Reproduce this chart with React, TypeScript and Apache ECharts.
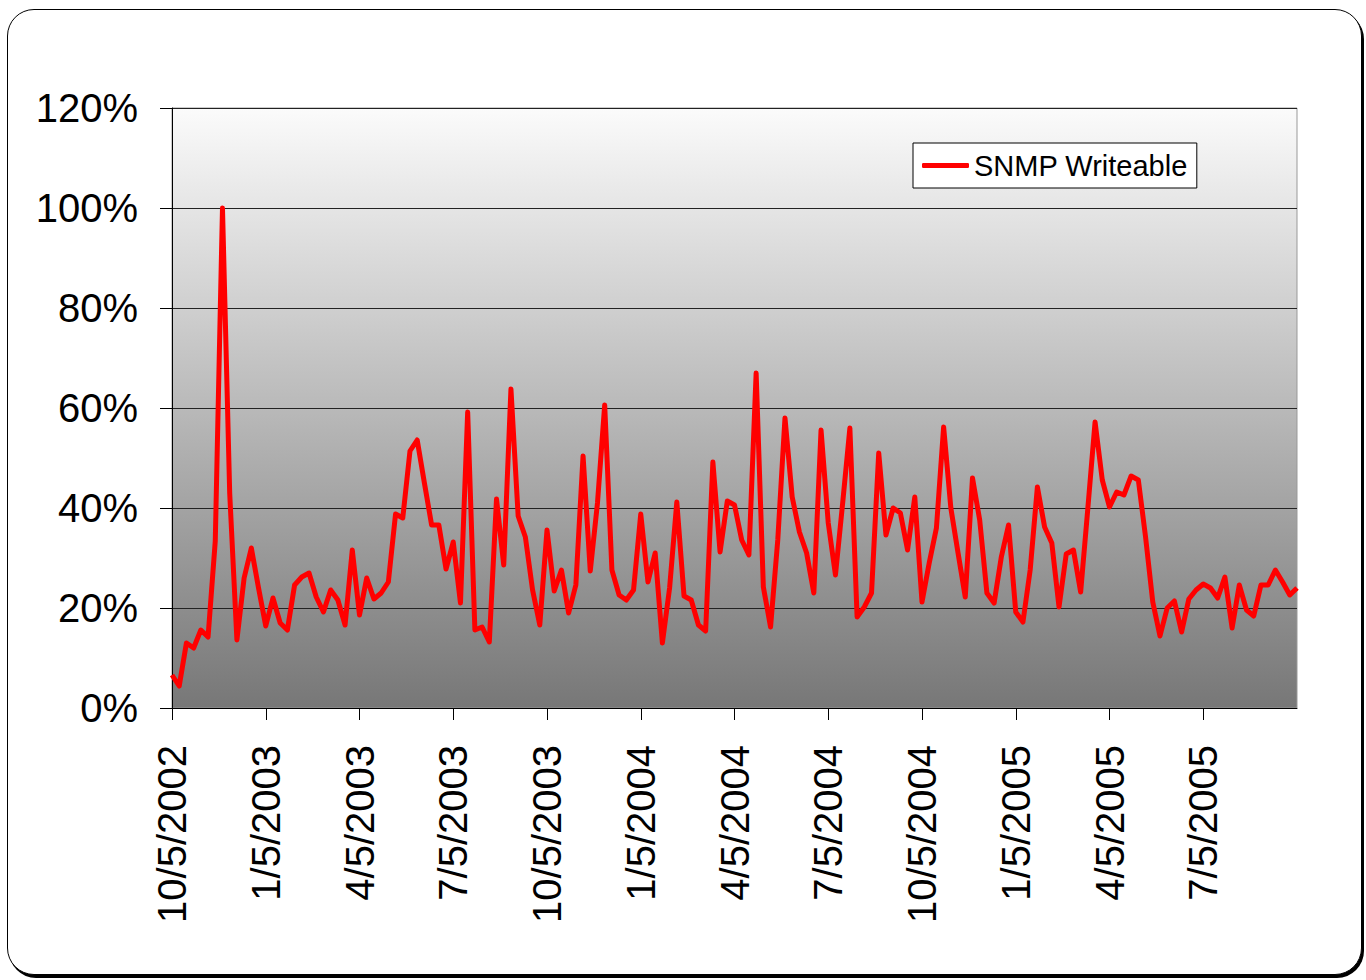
import React, { useEffect, useRef } from "react";
import * as echarts from "echarts";

const seriesName = "SNMP Writeable";

// Weekly share of devices (percent)
const values: number[] = [
  6.6, 4.4, 13, 12, 15.6, 14.2, 33.4, 100, 43, 13.6,
  26, 32, 24, 16.4, 22, 17, 15.6, 24.6, 26.2, 27,
  22.2, 19.2, 23.6, 21.6, 16.6, 31.6, 18.6, 26, 21.8, 23,
  25.2, 38.8, 38, 51.4, 53.6, 45, 36.6, 36.6, 27.8, 33.2,
  21, 59.2, 15.6, 16.2, 13.2, 41.8, 28.6, 63.8, 38.4, 34.2,
  23.6, 16.6, 35.6, 23.4, 27.6, 19, 24.6, 50.4, 27.4, 41,
  60.6, 27.6, 22.6, 21.6, 23.6, 38.8, 25.2, 31, 13, 24,
  41.2, 22.4, 21.6, 16.6, 15.4, 49.2, 31.2, 41.4, 40.6, 33.6,
  30.6, 67, 24.2, 16.2, 33.6, 58, 42.2, 35.2, 31, 23,
  55.6, 37, 26.6, 41, 56, 18.2, 20.2, 23, 51, 34.6,
  40, 39, 31.6, 42.2, 21.2, 29, 36, 56.2, 40, 31,
  22.2, 46, 37.6, 23, 21, 30.2, 36.6, 19.2, 17.2, 27.6,
  44.2, 36.2, 33, 20.2, 30.8, 31.6, 23.2, 40, 57.2, 45.6,
  40.2, 43.2, 42.6, 46.4, 45.6, 34.2, 21.2, 14.4, 20, 21.4,
  15.2, 21.8, 23.6, 24.8, 24, 22, 26.2, 16, 24.6, 19.6,
  18.4, 24.6, 24.6, 27.6, 25.2, 22.6, 24,
];

// Quarterly tick labels, one every 13 weeks
const tickLabels: string[] = [
  "10/5/2002", "1/5/2003", "4/5/2003", "7/5/2003", "10/5/2003", "1/5/2004",
  "4/5/2004", "7/5/2004", "10/5/2004", "1/5/2005", "4/5/2005", "7/5/2005",
];
const weeksPerTick = 13;

const yTicks = { min: 0, max: 120, step: 20 };

// Weekly category dates starting 10/5/2002
const categories: string[] = (() => {
  const out: string[] = [];
  const start = new Date(2002, 9, 5);
  for (let i = 0; i < values.length; i++) {
    const d = new Date(start.getTime());
    d.setDate(start.getDate() + i * 7);
    out.push(`${d.getMonth() + 1}/${d.getDate()}/${d.getFullYear()}`);
  }
  return out;
})();

const FONT = "'Liberation Sans', Arial, sans-serif";

export default function App() {
  const ref = useRef<HTMLDivElement>(null);

  useEffect(() => {
    if (!ref.current) return;
    const chart = echarts.init(ref.current, null, { renderer: "svg" });
    const showTick = (index: number) =>
      index % weeksPerTick === 0 && index / weeksPerTick < tickLabels.length;
    chart.setOption({
      animation: false,
      grid: {
        left: 172,
        right: 69,
        top: 108,
        bottom: 272,
        containLabel: false,
        show: true,
        borderColor: "#999",
        borderWidth: 1,
        backgroundColor: new echarts.graphic.LinearGradient(0, 0, 0, 1, [
          { offset: 0, color: "#fbfbfb" },
          { offset: 1, color: "#777777" },
        ]),
      },
      legend: {
        left: 913,
        top: 143,
        orient: "horizontal",
        backgroundColor: "#fff",
        borderColor: "#000",
        borderWidth: 1,
        borderRadius: 0,
        padding: [6, 9, 6, 9],
        itemWidth: 47,
        itemHeight: 5,
        icon: "roundRect",
        textStyle: { fontSize: 29, fontFamily: FONT, color: "#000", lineHeight: 33 },
        data: [seriesName],
      },
      xAxis: {
        type: "category",
        boundaryGap: false,
        data: categories,
        axisLine: { show: true, lineStyle: { color: "#000", width: 1 } },
        axisTick: {
          show: true,
          interval: (index: number) => showTick(index),
          length: 12,
          lineStyle: { color: "#000", width: 1 },
        },
        axisLabel: {
          interval: (index: number) => showTick(index),
          rotate: 90,
          margin: 37,
          fontSize: 40,
          fontFamily: FONT,
          color: "#000",
          formatter: (_v: string, index: number) =>
            showTick(index) ? tickLabels[index / weeksPerTick] : "",
        },
        splitLine: { show: false },
      },
      yAxis: {
        type: "value",
        min: yTicks.min,
        max: yTicks.max,
        interval: yTicks.step,
        axisLine: { show: true, lineStyle: { color: "#000", width: 1 } },
        axisTick: { show: true, length: 12, lineStyle: { color: "#000", width: 1 } },
        axisLabel: {
          formatter: "{value}%",
          fontSize: 40,
          margin: 34,
          fontFamily: FONT,
          color: "#000",
        },
        splitLine: { show: true, lineStyle: { color: "#222", width: 1 } },
      },
      series: [
        {
          name: seriesName,
          type: "line",
          data: values,
          symbol: "none",
          lineStyle: { color: "#ff0000", width: 5, join: "round" },
          itemStyle: { color: "#ff0000" },
        },
      ],
    });
    return () => chart.dispose();
  }, []);

  return (
    <div style={{ position: "fixed", left: 0, top: 0, width: 1366, height: 980, background: "#fff" }}>
      <div
        style={{
          position: "absolute",
          left: 7,
          top: 9,
          width: 1355,
          height: 966,
          boxSizing: "border-box",
          border: "1.5px solid #000",
          borderRadius: 27,
          boxShadow: "2px 3px 0 #000",
          background: "#fff",
        }}
      />
      <div ref={ref} style={{ position: "absolute", left: 0, top: 0, width: 1366, height: 980 }} />
    </div>
  );
}
